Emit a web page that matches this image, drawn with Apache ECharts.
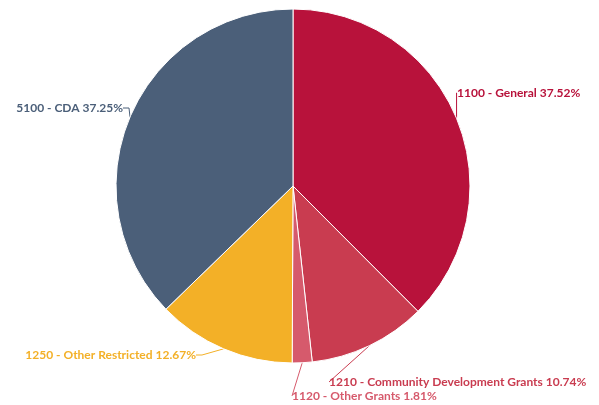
<!DOCTYPE html>
<html>
<head>
<meta charset="utf-8">
<script src="https://cdn.jsdelivr.net/npm/echarts@6/dist/echarts.min.js"></script>
<style>
  html, body { margin: 0; padding: 0; background: #fff; }
  #chartmain { width: 599px; height: 405px; }
</style>
</head>
<body>
<div id="chartmain"></div>
<script>
var categories = ['1100 - General', '1210 - Community Development Grants', '1120 - Other Grants', '1250 - Other Restricted', '5100 - CDA'];
var shares = [37.52, 10.74, 1.81, 12.67, 37.25];
var colors = ['#b8123b', '#c93c50', '#d65a6c', '#f3b027', '#4b5f79'];

// where each label sits (left/right anchor, vertical middle)
var labelSpots = [
    { x: 457, y: 93, align: 'left' },
    { x: 329, y: 382, align: 'left' },
    { x: 292, y: 396, align: 'left' },
    { x: 196, y: 355, align: 'right' },
    { x: 123, y: 108, align: 'right' }
];

window.onload = function(){
    var items = [];
    for (var i = 0; i < categories.length; i++) {
        items.push({ name: categories[i], value: shares[i] });
    }
    var option = {
        color: colors,
        animation: false,
        series: [
            {
                type: 'pie',
                center: [293, 186],
                radius: [0, 177],
                startAngle: 90,
                clockwise: true,
                itemStyle: {
                    borderColor: '#fff',
                    borderWidth: 1
                },
                label: {
                    show: true,
                    formatter: '{b} {c}%',
                    color: 'inherit',
                    fontFamily: 'Lato',
                    fontWeight: 'bold',
                    fontSize: 12,
                    overflow: 'none',
                    edgeDistance: 0
                },
                labelLine: {
                    show: true,
                    length: 8,
                    length2: 6,
                    lineStyle: { width: 1 }
                },
                labelLayout: function (params) {
                    var s = labelSpots[params.dataIndex];
                    return { x: s.x, y: s.y, align: s.align, verticalAlign: 'middle', width: 300 };
                },
                data: items
            }
        ]
    };
    var myChart = echarts.init(document.getElementById('chartmain'));
    myChart.setOption(option);
};
</script>
</body>
</html>
